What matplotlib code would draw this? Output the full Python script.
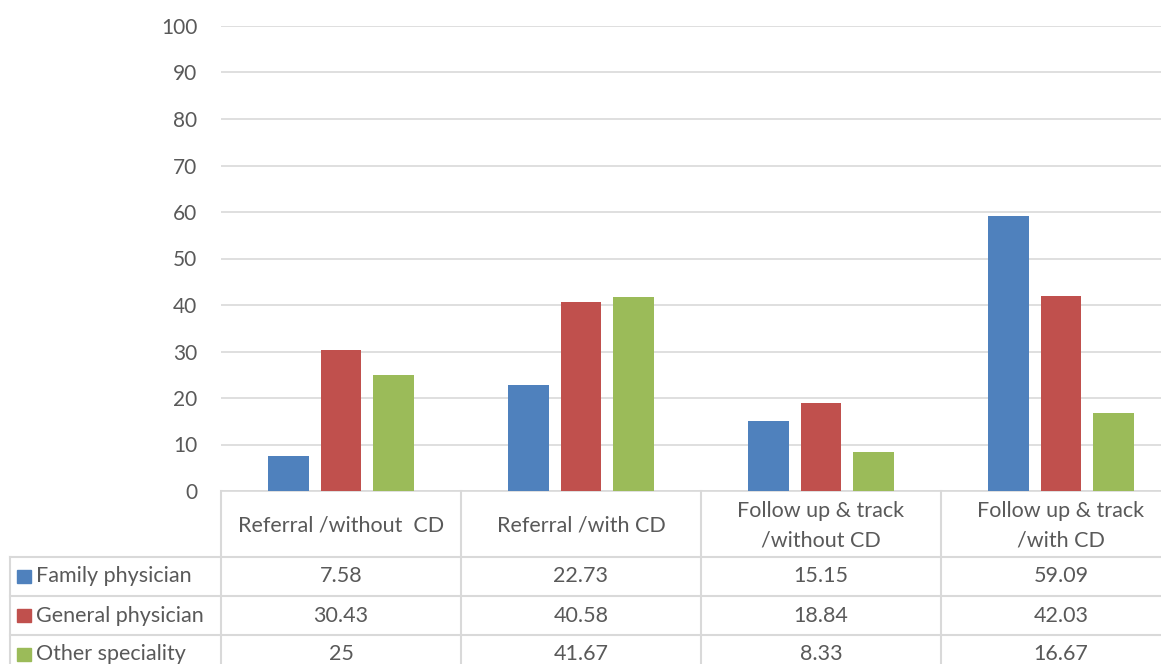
import matplotlib
matplotlib.use('Agg')
import matplotlib.pyplot as plt
import numpy as np

# chart data
categories = ['Referral /without  CD', 'Referral /with CD',
              'Follow up & track\n/without CD', 'Follow up & track\n/with CD']
series = ['Family physician', 'General physician', 'Other speciality']
family = [7.58, 22.73, 15.15, 59.09]
general = [30.43, 40.58, 18.84, 42.03]
other = [25, 41.67, 8.33, 16.67]
labels = [['7.58', '22.73', '15.15', '59.09'],
          ['30.43', '40.58', '18.84', '42.03'],
          ['25', '41.67', '8.33', '16.67']]
colors = ['#4F81BD', '#C0504D', '#9BBB59']

plt.rcParams['font.family'] = ['Lato', 'DejaVu Sans']
text_color = '#595959'
line_color = '#d9d9d9'
fs = 15.5

W, H = 1161, 664
fig = plt.figure(figsize=(W / 100, H / 100), dpi=100)
# plot area runs a little past the right edge of the figure
left_px, right_px, top_px, base_px = 221, 1181, 26, 491
ax = fig.add_axes([left_px / W, 1 - base_px / H,
                   (right_px - left_px) / W, (base_px - top_px) / H])

x = np.arange(len(categories))
offsets = [-0.22, 0.0, 0.22]
for vals, off, c in zip([family, general, other], offsets, colors):
    ax.bar(x + off, vals, width=0.17, color=c, zorder=3)

ax.set_xlim(-0.5, len(categories) - 0.5)
ax.set_ylim(0, 100)
ax.set_yticks(range(0, 101, 10))
ax.yaxis.grid(True, color=line_color, linewidth=1.2, zorder=0)
ax.set_axisbelow(True)
ax.tick_params(axis='y', length=0, pad=17, labelsize=15, labelcolor=text_color)
ax.set_xticks([])
for s in ['top', 'right', 'left']:
    ax.spines[s].set_visible(False)
ax.spines['bottom'].set_color(line_color)
ax.spines['bottom'].set_linewidth(1.2)

# data table under the plot, in axes coordinates
axw = right_px - left_px
axh = base_px - top_px
def fx(px):
    return (px - left_px) / axw
def fy(py):
    return (base_px - py) / axh

tr = ax.transAxes
row_tops = [557, 596, 635]
bottom = 680
lkw = dict(color=line_color, linewidth=1.5, transform=tr, clip_on=False)
ax.plot([0, 0], [fy(base_px), fy(bottom)], **lkw)
for i in range(1, len(categories)):
    xb = i / len(categories)
    ax.plot([xb, xb], [fy(base_px), fy(bottom)], **lkw)
ax.plot([fx(10), fx(10)], [fy(row_tops[0]), fy(bottom)], **lkw)
for r in row_tops:
    ax.plot([fx(10), 1.0], [fy(r), fy(r)], **lkw)

for i, cat in enumerate(categories):
    xc = (i + 0.5) / len(categories)
    ax.text(xc, fy(525.5), cat, transform=tr, ha='center', va='center',
            fontsize=fs, color=text_color, linespacing=1.6)

for r, (name, c, row) in enumerate(zip(series, colors, labels)):
    yc = fy(row_tops[r] + 19.5)
    ax.add_patch(plt.Rectangle((fx(17), yc - 6.5 / axh), 14 / axw, 13 / axh,
                               transform=tr, color=c, clip_on=False))
    ax.text(fx(36), yc, name, transform=tr, ha='left', va='center',
            fontsize=fs, color=text_color)
    for i, v in enumerate(row):
        ax.text((i + 0.5) / len(categories), yc, v, transform=tr,
                ha='center', va='center', fontsize=fs, color=text_color)

fig.savefig('out.png', dpi=100)
